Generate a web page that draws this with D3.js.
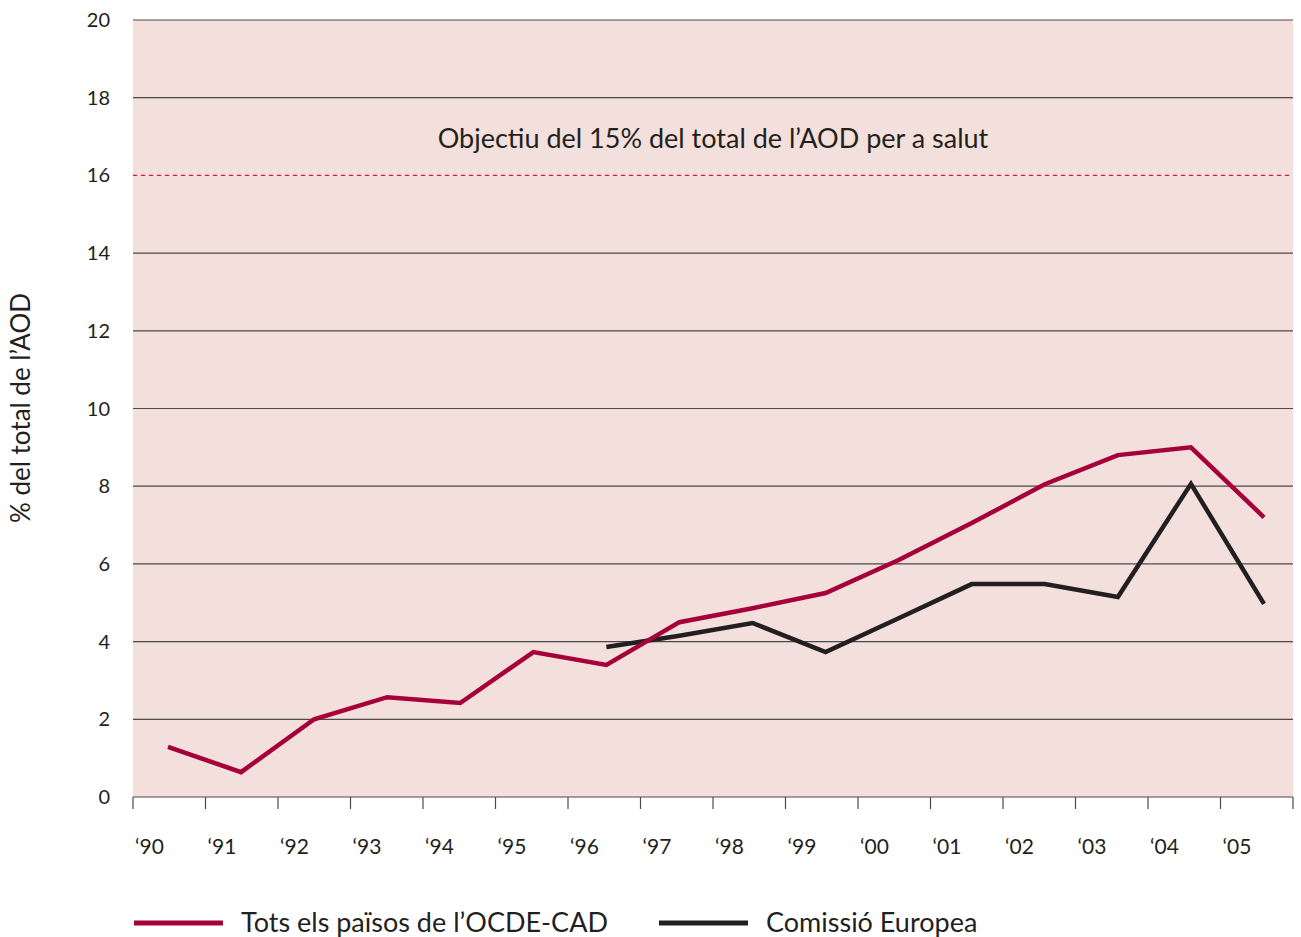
<!DOCTYPE html>
<html>
<head>
<meta charset="utf-8">
<script src="https://cdn.jsdelivr.net/npm/d3@7"></script>
<style>
  body { margin: 0; background: #fff; }
  text { font-family: Lato, "Open Sans", sans-serif; fill: #231f20; }
</style>
</head>
<body>
<script>
// data
var years = ["\u201890", "\u201891", "\u201892", "\u201893", "\u201894", "\u201895", "\u201896", "\u201897", "\u201898", "\u201899", "\u201800", "\u201801", "\u201802", "\u201803", "\u201804", "\u201805"];
var ocdeCad = [1.29, 0.64, 2.0, 2.57, 2.42, 3.73, 3.40, 4.5, 4.86, 5.25, 6.1, 7.05, 8.05, 8.8, 9.0, 7.2];
var comissio = [null, null, null, null, null, null, 3.86, 4.15, 4.48, 3.73, 4.6, 5.48, 5.48, 5.15, 8.06, 4.97];
var yTicks = [0, 2, 4, 6, 8, 10, 12, 14, 16, 18, 20];
var target = 16;

var width = 1301, height = 937;
var plotLeft = 133, plotRight = 1293, plotTop = 20, plotBottom = 797;

var svg = d3.select("body")
    .append("svg")
    .attr("width", width)
    .attr("height", height);

var y = d3.scaleLinear().domain([0, 20]).range([plotBottom, plotTop]);
var band = d3.scaleBand().domain(years).range([plotLeft, plotRight]);
var x = d3.scalePoint().domain(years).range([168, 1264]);

// background
svg.append("rect")
    .attr("x", plotLeft)
    .attr("y", plotTop)
    .attr("width", plotRight - plotLeft)
    .attr("height", plotBottom - plotTop)
    .attr("fill", "#f3dfdb");

// grid lines (skip the target line)
svg.selectAll(".grid")
    .data(yTicks.filter(function(d) { return d != target && d != 0; }))
    .enter()
    .append("line")
    .attr("x1", plotLeft)
    .attr("x2", plotRight)
    .attr("y1", function(d) { return y(d); })
    .attr("y2", function(d) { return y(d); })
    .attr("stroke", "#4d4a4a")
    .attr("stroke-width", 1.2);

// y labels
svg.selectAll(".ylab")
    .data(yTicks)
    .enter()
    .append("text")
    .attr("x", 110)
    .attr("y", function(d) { return y(d) + 7; })
    .attr("text-anchor", "end")
    .attr("font-size", "20px")
    .text(function(d) { return d; });

// target dashed line
svg.append("line")
    .attr("x1", plotLeft)
    .attr("x2", plotRight)
    .attr("y1", y(target))
    .attr("y2", y(target))
    .attr("stroke", "#d2144a")
    .attr("stroke-width", 1.2)
    .attr("stroke-dasharray", "4,4");

svg.append("text")
    .attr("x", 713)
    .attr("y", 148)
    .attr("text-anchor", "middle")
    .attr("font-size", "27px")
    .text("Objectiu del 15% del total de l\u2019AOD per a salut");

// x axis
var xAxis = svg.append("g");
xAxis.append("line")
    .attr("x1", plotLeft)
    .attr("x2", plotRight)
    .attr("y1", plotBottom)
    .attr("y2", plotBottom)
    .attr("stroke", "#4d4a4a")
    .attr("stroke-width", 1.2);
var ticks = years.map(function(d) { return band(d); }).concat([plotRight]);
xAxis.selectAll(".tick")
    .data(ticks)
    .enter()
    .append("line")
    .attr("x1", function(d) { return d; })
    .attr("x2", function(d) { return d; })
    .attr("y1", plotBottom)
    .attr("y2", plotBottom + 12)
    .attr("stroke", "#4d4a4a")
    .attr("stroke-width", 1.2);
xAxis.selectAll(".xlab")
    .data(years)
    .enter()
    .append("text")
    .attr("x", function(d) { return band(d) + 2; })
    .attr("y", 854)
    .attr("font-size", "21px")
    .text(function(d) { return d; });

// y axis title
svg.append("text")
    .attr("transform", "translate(30,408) rotate(-90)")
    .attr("text-anchor", "middle")
    .attr("font-size", "26px")
    .text("% del total de l\u2019AOD");

// lines
var line = d3.line()
    .defined(function(d) { return d[1] != null; })
    .x(function(d) { return x(d[0]); })
    .y(function(d) { return y(d[1]); });

svg.append("path")
    .datum(years.map(function(d, i) { return [d, comissio[i]]; }))
    .attr("d", line)
    .attr("fill", "none")
    .attr("stroke", "#231f20")
    .attr("stroke-width", 4.5);

svg.append("path")
    .datum(years.map(function(d, i) { return [d, ocdeCad[i]]; }))
    .attr("d", line)
    .attr("fill", "none")
    .attr("stroke", "#a6003a")
    .attr("stroke-width", 4.5);

// legend
var legend = [
    {name: "Tots els pa\u00efsos de l\u2019OCDE-CAD", color: "#a6003a", x: 134},
    {name: "Comissi\u00f3 Europea", color: "#231f20", x: 659}
];
var lg = svg.selectAll(".legend")
    .data(legend)
    .enter()
    .append("g");
lg.append("line")
    .attr("x1", function(d) { return d.x; })
    .attr("x2", function(d) { return d.x + 89; })
    .attr("y1", 923)
    .attr("y2", 923)
    .attr("stroke", function(d) { return d.color; })
    .attr("stroke-width", 5);
lg.append("text")
    .attr("x", function(d) { return d.x + 107; })
    .attr("y", 932)
    .attr("font-size", "27px")
    .text(function(d) { return d.name; });
</script>
</body>
</html>
